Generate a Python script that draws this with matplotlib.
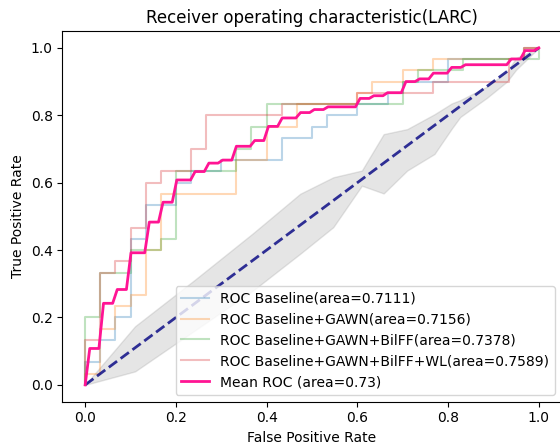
import numpy as np
import matplotlib.pyplot as plt

# ROC step curves (30 negatives / 30 positives grid, in counts)
fpr_base = [0, 0, 1, 1, 2, 2, 3, 3, 4, 4, 6, 6, 7, 7, 9, 9, 13, 13, 15, 15, 16, 16, 18, 18, 20, 20, 21, 21, 24, 24, 29, 29, 30]
tpr_base = [0, 2, 2, 4, 4, 6, 6, 13, 13, 16, 16, 18, 18, 19, 19, 20, 20, 22, 22, 23, 23, 24, 24, 25, 25, 26, 26, 27, 27, 29, 29, 30, 30]

fpr_gawn = [0, 0, 1, 1, 2, 2, 3, 3, 4, 4, 5, 5, 10, 10, 12, 12, 14, 14, 18, 18, 19, 19, 21, 21, 23, 23, 29, 29, 30]
tpr_gawn = [0, 1, 1, 5, 5, 7, 7, 8, 8, 12, 12, 17, 17, 20, 20, 23, 23, 25, 25, 26, 26, 27, 27, 28, 28, 29, 29, 30, 30]

fpr_bilff = [0, 0, 1, 1, 3, 3, 5, 5, 6, 6, 10, 10, 11, 11, 12, 12, 21, 21, 22, 22, 25, 25, 30, 30]
tpr_bilff = [0, 6, 6, 10, 10, 12, 12, 13, 13, 19, 19, 21, 21, 23, 23, 25, 25, 27, 27, 28, 28, 29, 29, 30]

fpr_wl = [0, 0, 1, 1, 2, 2, 3, 3, 4, 4, 5, 5, 7, 7, 8, 8, 13, 13, 18, 18, 23, 23, 28, 28, 29, 29, 30]
tpr_wl = [0, 4, 4, 10, 10, 11, 11, 14, 14, 18, 18, 19, 19, 21, 21, 24, 24, 25, 25, 26, 26, 27, 27, 29, 29, 30, 30]

labels = ['ROC Baseline(area=0.7111)',
          'ROC Baseline+GAWN(area=0.7156)',
          'ROC Baseline+GAWN+BilFF(area=0.7378)',
          'ROC Baseline+GAWN+BilFF+WL(area=0.7589)']

# mean ROC level on each 1/30 fpr interval
mean_levels = [0.108, 0.242, 0.283, 0.392, 0.483, 0.542, 0.608, 0.633, 0.658, 0.667,
               0.708, 0.725, 0.767, 0.792, 0.808, 0.817, 0.825, 0.825, 0.850, 0.858,
               0.867, 0.900, 0.908, 0.925, 0.942, 0.950, 0.950, 0.950, 0.967, 0.992]

# grey band around the chance line
band_x = [0, 0.11, 0.24, 0.37, 0.474, 0.547, 0.61, 0.658, 0.71, 0.77, 0.808, 0.827, 0.886, 0.93, 0.95, 1.0]
band_hi = [0, 0.174, 0.31, 0.45, 0.567, 0.616, 0.636, 0.744, 0.759, 0.803, 0.835, 0.845, 0.885, 0.93, 0.97, 1.0]
band_lo = [0, 0.04, 0.16, 0.28, 0.389, 0.468, 0.591, 0.568, 0.636, 0.685, 0.76, 0.795, 0.852, 0.90, 0.935, 1.0]

n = 30.0
curves = [(fpr_base, tpr_base), (fpr_gawn, tpr_gawn), (fpr_bilff, tpr_bilff), (fpr_wl, tpr_wl)]

mean_fpr = np.linspace(0, 1, 100)
idx = np.minimum((mean_fpr * 30 + 1e-9).astype(int), 29)
mean_tpr = np.array(mean_levels)[idx]
mean_tpr[0] = 0.0
mean_tpr[-1] = 1.0

fig = plt.figure(figsize=(5.6, 4.47), dpi=100)
ax = fig.add_axes([0.1116, 0.1013, 0.891, 0.8293])

for (f, t), lab in zip(curves, labels):
    ax.plot(np.array(f) / n, np.array(t) / n, lw=1.5, alpha=0.3, label=lab)

ax.fill_between(band_x, band_lo, band_hi, color='grey', alpha=0.2)
ax.plot([0, 1], [0, 1], linestyle='--', lw=2, color='navy', alpha=0.8)
ax.plot(mean_fpr, mean_tpr, color='deeppink', lw=2, label='Mean ROC (area=0.73)')

ax.set_xlabel('False Positive Rate')
ax.set_ylabel('True Positive Rate')
ax.set_title('Receiver operating characteristic(LARC)')
ax.legend(loc='lower right')

fig.savefig('out.png', dpi=100)
